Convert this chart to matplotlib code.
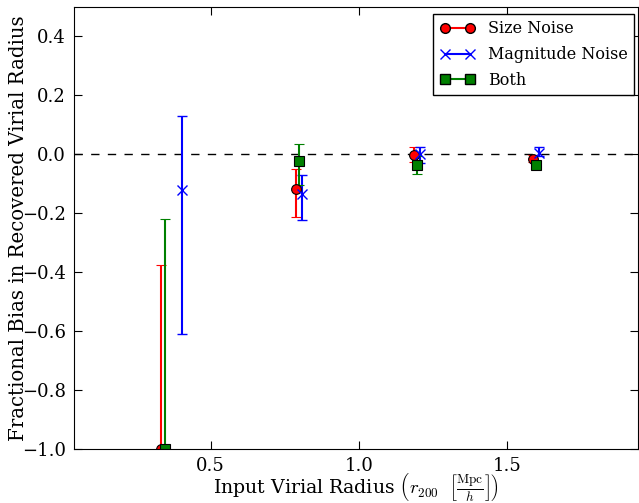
import matplotlib
matplotlib.use('Agg')
import matplotlib.pyplot as plt
from matplotlib.lines import Line2D

## DATA, errors as (lower, upper)
x_size = [0.334, 0.787, 1.186, 1.585]
y_size = [-1.0, -0.118, -0.001, -0.015]
lo_size = [0.626, 0.093, 0.025, 0.012]
hi_size = [0.626, 0.068, 0.025, 0.012]

x_mag = [0.405, 0.807, 1.206, 1.608]
y_mag = [-0.122, -0.135, 0.0, 0.006]
lo_mag = [0.487, 0.088, 0.03, 0.01]
hi_mag = [0.253, 0.064, 0.024, 0.019]

x_both = [0.348, 0.797, 1.196, 1.598]
y_both = [-1.0, -0.023, -0.037, -0.035]
lo_both = [0.779, 0.082, 0.031, 0.01]
hi_both = [0.779, 0.057, 0.03, 0.01]

labels = ['Size Noise', 'Magnitude Noise', 'Both']

## STYLE
plt.rcParams['font.family'] = 'DejaVu Serif'
plt.rcParams['mathtext.fontset'] = 'cm'
plt.rcParams['xtick.direction'] = 'in'
plt.rcParams['ytick.direction'] = 'in'
plt.rcParams['xtick.top'] = True
plt.rcParams['ytick.right'] = True
plt.rcParams['xtick.major.size'] = 6
plt.rcParams['ytick.major.size'] = 6
plt.rcParams['xtick.major.pad'] = 6
plt.rcParams['ytick.major.pad'] = 6

fig = plt.figure(figsize=(6.39, 5.03), dpi=100)
ax = fig.add_axes([74/639., 1-449/503., (638-74)/639., (449-7)/503.])

ax.axhline(0, color='k', ls='--', lw=1, dashes=(6, 6))

ax.errorbar(x_size, y_size, yerr=[lo_size, hi_size], fmt='o', color='r', mec='k',
            mew=0.8, ms=7, capsize=3.5, elinewidth=1.5, capthick=1.5)
ax.errorbar(x_mag, y_mag, yerr=[lo_mag, hi_mag], fmt='x', color='b', ms=7, mew=1,
            capsize=3.5, elinewidth=1.5, capthick=1.5)
ax.errorbar(x_both, y_both, yerr=[lo_both, hi_both], fmt='s', color='g', mec='k',
            mew=0.8, ms=7, capsize=3.5, elinewidth=1.5, capthick=1.5)

ax.set_xlim(0.04, 1.94)
ax.set_ylim(-1.0, 0.5)
ax.set_xticks([0.5, 1.0, 1.5])
ax.set_yticks([-1.0, -0.8, -0.6, -0.4, -0.2, 0.0, 0.2, 0.4])
ax.tick_params(labelsize=13)

ax.set_xlabel(r'Input Virial Radius $\left(r_{200}\ \ \left[\frac{\mathrm{Mpc}}{h}\right]\right)$',
              fontsize=13.6)
ax.xaxis.set_label_coords(0.5, -0.05)
ax.set_ylabel('Fractional Bias in Recovered Virial Radius', fontsize=14.2)
ax.yaxis.set_label_coords(-0.082, 0.5)

handles = [
    Line2D([], [], color='r', marker='o', mec='k', ms=7),
    Line2D([], [], color='b', marker='x', ms=7),
    Line2D([], [], color='g', marker='s', mec='k', ms=7),
]
leg = ax.legend(handles, labels, loc='upper right', numpoints=2, fontsize=11.5,
                fancybox=False, framealpha=1, borderaxespad=0,
                bbox_to_anchor=((634-74)/564., (449-14)/442.),
                handlelength=2.2, labelspacing=0.55)
leg.get_frame().set_edgecolor('k')

fig.savefig('out.png', dpi=100)
